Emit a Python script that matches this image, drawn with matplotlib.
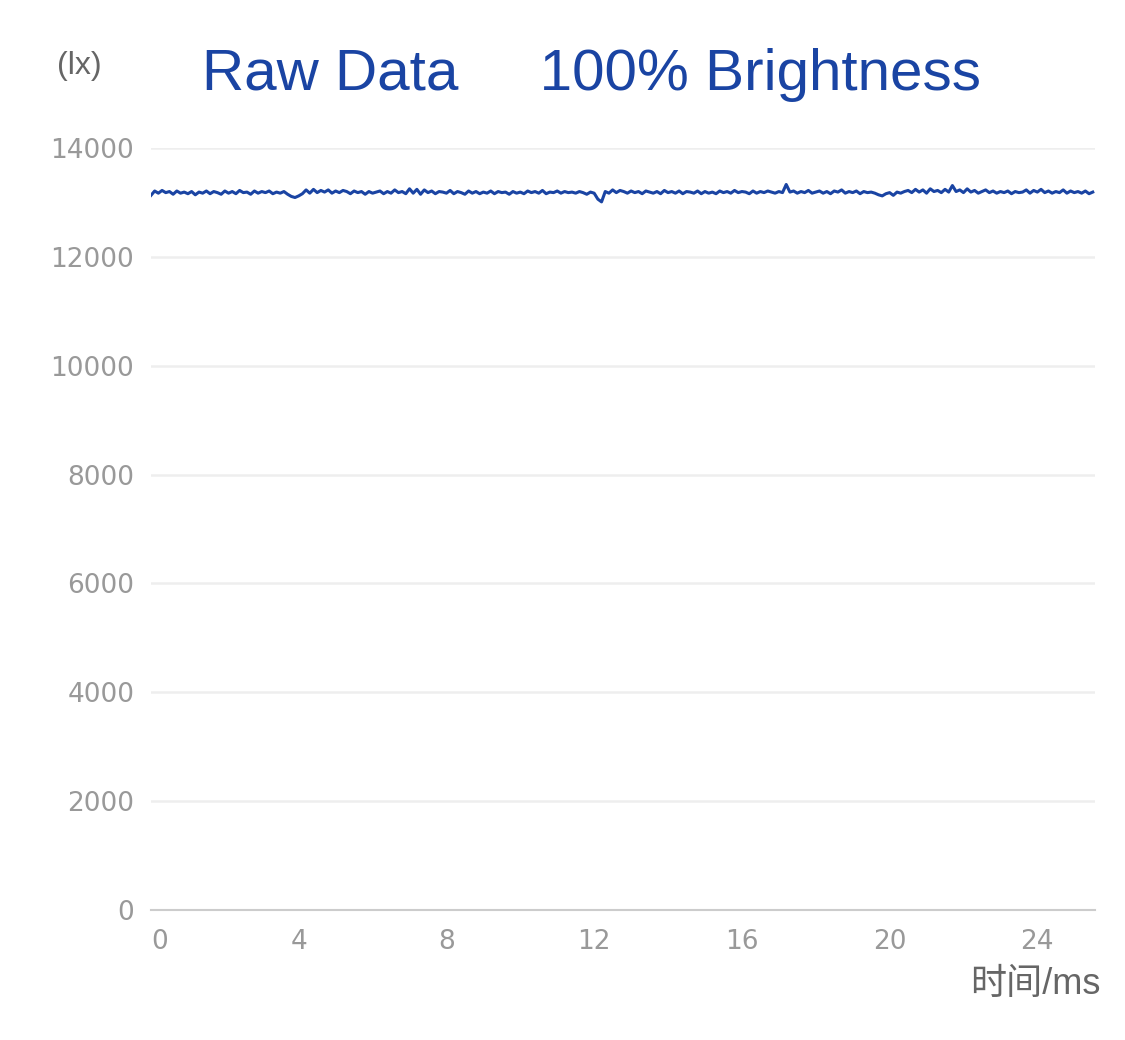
import matplotlib.pyplot as plt
import matplotlib.transforms as mtransforms
import numpy as np

plt.rcParams['font.family'] = ['Liberation Sans', 'Noto Sans CJK SC', 'DejaVu Sans']

# illuminance readings, one every 0.1 ms
lux = [
    13130, 13210, 13170, 13220, 13180, 13200, 13150, 13210, 13170, 13190,
    13160, 13200, 13140, 13190, 13170, 13210, 13160, 13200, 13180, 13150,
    13210, 13170, 13200, 13160, 13220, 13180, 13190, 13150, 13210, 13170,
    13200, 13180, 13210, 13160, 13190, 13170, 13200, 13150, 13110, 13090,
    13120, 13160, 13230, 13170, 13240, 13180, 13220, 13190, 13230, 13170,
    13210, 13180, 13220, 13200, 13160, 13210, 13180, 13200, 13150, 13200,
    13170, 13190, 13210, 13160, 13200, 13170, 13230, 13180, 13200, 13160,
    13250, 13170, 13240, 13150, 13230, 13180, 13210, 13160, 13200, 13190,
    13170, 13220, 13160, 13200, 13180, 13150, 13210, 13170, 13200, 13160,
    13190, 13170, 13210, 13160, 13200, 13180, 13190, 13150, 13200, 13170,
    13190, 13160, 13210, 13180, 13200, 13170, 13220, 13160, 13190, 13180,
    13210, 13170, 13200, 13180, 13190, 13170, 13200, 13180, 13150, 13190,
    13170, 13060, 13010, 13200, 13170, 13230, 13180, 13220, 13200, 13170,
    13210, 13180, 13200, 13160, 13210, 13190, 13170, 13200, 13160, 13220,
    13180, 13200, 13170, 13210, 13160, 13200, 13190, 13170, 13210, 13160,
    13200, 13170, 13190, 13160, 13210, 13180, 13200, 13170, 13220, 13180,
    13200, 13190, 13160, 13210, 13170, 13200, 13180, 13210, 13190, 13170,
    13200, 13180, 13330, 13190, 13210, 13170, 13200, 13180, 13220, 13170,
    13190, 13210, 13170, 13200, 13160, 13210, 13190, 13230, 13170, 13200,
    13180, 13210, 13160, 13200, 13180, 13190, 13170, 13140, 13120, 13160,
    13180, 13130, 13190, 13170, 13200, 13220, 13180, 13240, 13190, 13230,
    13170, 13250, 13200, 13220, 13180, 13240, 13190, 13310, 13200, 13230,
    13180, 13250, 13190, 13220, 13170, 13200, 13230, 13180, 13210, 13170,
    13200, 13180, 13210, 13160, 13200, 13180, 13190, 13230, 13170, 13220,
    13190, 13240, 13180, 13210, 13170, 13200, 13180, 13230, 13170, 13210,
    13180, 13200, 13170, 13210, 13160, 13190,
]
t = np.arange(len(lux)) * 0.1

x_ticks = [0, 4, 8, 12, 16, 20, 24]
y_ticks = [0, 2000, 4000, 6000, 8000, 10000, 12000, 14000]

fig = plt.figure(figsize=(11.25, 10.4), dpi=100)
ax = fig.add_axes([0.1342, 0.125, 0.8391, 0.7327])

ax.plot(t, lux, color='#1a44a3', linewidth=2.2)

ax.set_xlim(0, 25.56)
ax.set_ylim(0, 14000)
ax.set_yticks(y_ticks)
ax.set_xticks(x_ticks)
ax.set_xticklabels([str(v) for v in x_ticks])
ax.grid(axis='y', color='#eeeeee', linewidth=1.8)
ax.set_axisbelow(True)
for s in ['top', 'right', 'left']:
    ax.spines[s].set_visible(False)
ax.spines['bottom'].set_color('#cccccc')
ax.spines['bottom'].set_linewidth(1.5)
ax.tick_params(axis='both', length=0, labelsize=19, labelcolor='#999999')
ax.tick_params(axis='y', pad=12)
ax.tick_params(axis='x', pad=14)
for lbl in ax.get_xticklabels() + ax.get_yticklabels():
    lbl.set_family('DejaVu Sans')
# first x label sits a little to the right, inside the axis
first = ax.get_xticklabels()[0]
first.set_transform(first.get_transform() +
                    mtransforms.ScaledTranslation(9 / 100, 0, fig.dpi_scale_trans))

fig.text(0.0705, 0.937, '(lx)', fontsize=23, color='#666666', ha='center', va='center')
fig.text(0.526, 0.928, 'Raw Data     100% Brightness', fontsize=42, color='#1a44a3',
         ha='center', va='center')
fig.text(0.978, 0.053, '时间/ms', fontsize=26, color='#666666', ha='right', va='center')

fig.savefig('out.png', dpi=100)
